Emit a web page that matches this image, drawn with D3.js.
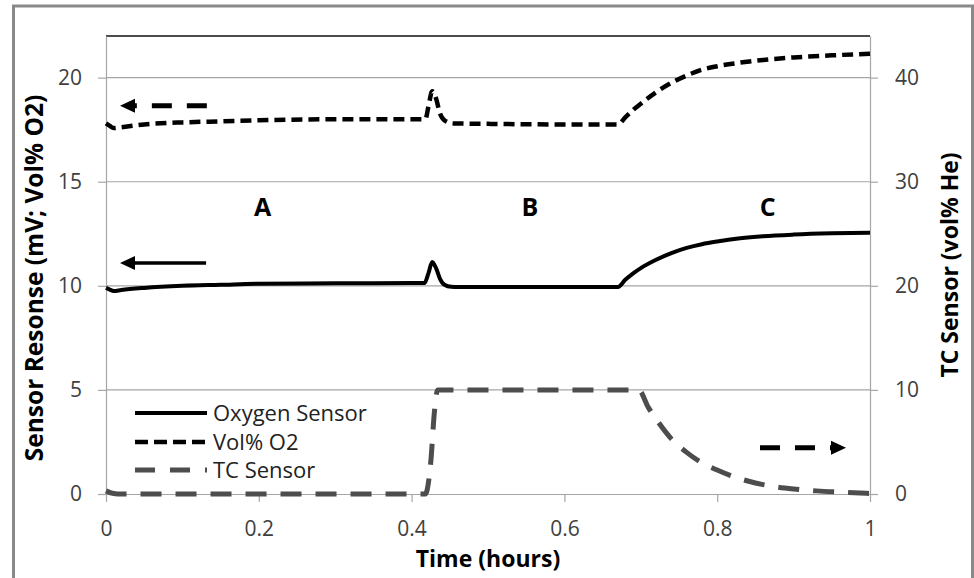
<!DOCTYPE html>
<html>
<head>
<meta charset="utf-8">
<script src="https://cdn.jsdelivr.net/npm/d3@7"></script>
<style>
    body { margin: 0; background: #fff; }
    svg { display: block; font-family: "Open Sans", sans-serif; }
</style>
</head>
<body>
<div id="chart"></div>
<script>
// values (time in hours)
const timeOxygen = [0, 0.005, 0.01, 0.02, 0.05, 0.1, 0.15, 0.2, 0.3, 0.4, 0.417, 0.422, 0.427, 0.432, 0.437, 0.443, 0.452, 0.46, 0.5, 0.6, 0.67, 0.68, 0.69, 0.7, 0.72, 0.74, 0.76, 0.78, 0.8, 0.83, 0.86, 0.9, 0.95, 1.0];
const oxygenSensor = [9.9, 9.82, 9.75, 9.8, 9.9, 10.0, 10.05, 10.1, 10.12, 10.13, 10.14, 10.6, 11.15, 10.85, 10.35, 10.05, 9.95, 9.94, 9.94, 9.94, 9.94, 10.3, 10.6, 10.85, 11.25, 11.57, 11.82, 12.0, 12.13, 12.28, 12.38, 12.46, 12.52, 12.55];

const timeVolO2 = [0, 0.005, 0.01, 0.02, 0.05, 0.1, 0.15, 0.2, 0.3, 0.4, 0.418, 0.422, 0.427, 0.432, 0.437, 0.443, 0.455, 0.5, 0.6, 0.67, 0.68, 0.69, 0.7, 0.72, 0.74, 0.76, 0.78, 0.8, 0.83, 0.86, 0.9, 0.95, 1.0];
const volO2 = [17.8, 17.68, 17.58, 17.62, 17.75, 17.85, 17.9, 17.95, 18.0, 18.0, 18.0, 18.6, 19.35, 19.0, 18.3, 17.95, 17.8, 17.78, 17.75, 17.75, 18.1, 18.45, 18.75, 19.3, 19.75, 20.1, 20.38, 20.55, 20.72, 20.85, 20.97, 21.07, 21.15];

const timeTc = [0, 0.01, 0.02, 0.2, 0.4, 0.418, 0.425, 0.43, 0.434, 0.44, 0.6, 0.697, 0.71, 0.72, 0.74, 0.76, 0.78, 0.8, 0.82, 0.84, 0.86, 0.88, 0.9, 0.93, 0.96, 1.0];
const tcSensor = [0.3, 0.05, 0, 0, 0, 0, 3, 8, 10, 10, 10, 10, 8.3, 7.2, 5.3, 4.0, 3.0, 2.3, 1.7, 1.25, 0.9, 0.65, 0.48, 0.3, 0.18, 0.05];

const xTicks = [0, 0.2, 0.4, 0.6, 0.8, 1];
const leftTicks = [0, 5, 10, 15, 20];
const rightTicks = [0, 10, 20, 30, 40];

const seriesNames = ['Oxygen Sensor', 'Vol% O2', 'TC Sensor'];

const regionLabels = ['A', 'B', 'C'];
const regionTime = [0.205, 0.555, 0.866];
const regionLevel = [13.8, 13.8, 13.8];

// arrows: tail time, tip time, level, which axis they point to
const arrowTail = [0.131, 0.132, 0.856];
const arrowTip = [0.0183, 0.0183, 0.9686];
const arrowLevel = [11.1, 18.65, 4.45];
const arrowAxis = ['left', 'left', 'right'];
const arrowDashed = [false, true, true];

class DualAxisChart {
    constructor(config) {
        this.config = config;
        this.magicConstants = {
            WIDTH: 974,
            HEIGHT: 578,
            PLOT: {left: 106, right: 870, top: 36, bottom: 494},
            GRID_COLOR: '#a6a6a6',
            TICK_COLOR: '#404040',
            TICK_SIZE: 8,
            HEAD: {length: 15, half: 7},
            STYLES: [
                {stroke: '#000', width: 4, dash: null},
                {stroke: '#000', width: 4.5, dash: '11,6'},
                {stroke: '#4d4d4d', width: 5, dash: '21,14'}
            ]
        };
    }

    _prepareSvg() {
        const {WIDTH, HEIGHT} = this.magicConstants;
        this.config.svg = d3.select(this.config.container)
            .append('svg')
            .attr('width', WIDTH)
            .attr('height', HEIGHT);
    }

    _makeScales() {
        const {PLOT} = this.magicConstants;
        this.config.x = d3.scaleLinear().domain([0, 1]).range([PLOT.left, PLOT.right]);
        this.config.yLeft = d3.scaleLinear().domain([0, 22]).range([PLOT.bottom, PLOT.top]);
        this.config.yRight = d3.scaleLinear().domain([0, 44]).range([PLOT.bottom, PLOT.top]);
    }

    _drawFrame() {
        const {svg} = this.config;
        svg.append('rect')
            .attr('x', 13.5)
            .attr('y', 6)
            .attr('width', 959)
            .attr('height', 620)
            .attr('fill', '#fff')
            .attr('stroke', '#898989')
            .attr('stroke-width', 3);
    }

    _drawGrid() {
        const {svg, x, yLeft} = this.config;
        const {GRID_COLOR, PLOT} = this.magicConstants;

        svg.append('g')
            .selectAll('line')
            .data(leftTicks.filter(d => d > 0))
            .join('line')
            .attr('x1', x(0))
            .attr('x2', x(1))
            .attr('y1', d => yLeft(d))
            .attr('y2', d => yLeft(d))
            .attr('stroke', GRID_COLOR)
            .attr('stroke-width', 1.2);

        // dark top edge of the plot area
        svg.append('line')
            .attr('x1', PLOT.left)
            .attr('x2', PLOT.right)
            .attr('y1', PLOT.top)
            .attr('y2', PLOT.top)
            .attr('stroke', '#111')
            .attr('stroke-width', 1.6);
    }

    _styleAxis(g) {
        const {GRID_COLOR, TICK_COLOR} = this.magicConstants;
        g.select('.domain').attr('stroke', GRID_COLOR).attr('stroke-width', 1.2);
        g.selectAll('.tick line').attr('stroke', GRID_COLOR).attr('stroke-width', 1.2);
        g.selectAll('.tick text')
            .attr('fill', TICK_COLOR)
            .style('font-size', '21px')
            .style('font-family', '"Open Sans", sans-serif');
    }

    _drawAxes() {
        const {svg, x, yLeft, yRight} = this.config;
        const {PLOT, TICK_SIZE} = this.magicConstants;

        svg.append('g')
            .attr('transform', `translate(0, ${PLOT.bottom})`)
            .call(d3.axisBottom(x).tickValues(xTicks).tickFormat(d3.format('')).tickSize(TICK_SIZE).tickSizeOuter(0).tickPadding(19))
            .call(g => this._styleAxis(g));

        svg.append('g')
            .attr('transform', `translate(${PLOT.left}, 0)`)
            .call(d3.axisLeft(yLeft).tickValues(leftTicks).tickSize(TICK_SIZE).tickSizeOuter(0).tickPadding(16))
            .call(g => this._styleAxis(g));

        svg.append('g')
            .attr('transform', `translate(${PLOT.right}, 0)`)
            .call(d3.axisRight(yRight).tickValues(rightTicks).tickSize(TICK_SIZE).tickSizeOuter(0).tickPadding(17))
            .call(g => this._styleAxis(g));

        svg.append('text')
            .attr('x', (PLOT.left + PLOT.right) / 2)
            .attr('y', 567)
            .attr('text-anchor', 'middle')
            .style('font-size', '23px')
            .style('font-weight', 'bold')
            .text('Time (hours)');

        svg.append('text')
            .attr('transform', `translate(43, 278) rotate(-90)`)
            .attr('text-anchor', 'middle')
            .style('font-size', '24.5px')
            .style('font-weight', 'bold')
            .text('Sensor Resonse (mV; Vol% O2)');

        svg.append('text')
            .attr('transform', `translate(958, ${(PLOT.top + PLOT.bottom) / 2}) rotate(-90)`)
            .attr('text-anchor', 'middle')
            .style('font-size', '23px')
            .style('font-weight', 'bold')
            .text('TC Sensor (vol% He)');
    }

    _drawSeries() {
        const {svg, x, yLeft, yRight} = this.config;
        const {STYLES} = this.magicConstants;
        const series = [
            {t: timeOxygen, v: oxygenSensor, y: yLeft},
            {t: timeVolO2, v: volO2, y: yLeft},
            {t: timeTc, v: tcSensor, y: yRight}
        ];

        // TC first so the black lines stay on top
        [2, 1, 0].forEach(i => {
            const s = series[i];
            const style = STYLES[i];
            const line = d3.line()
                .x(d => x(d[0]))
                .y(d => s.y(d[1]))
                .curve(d3.curveMonotoneX);

            svg.append('path')
                .datum(d3.zip(s.t, s.v))
                .attr('d', line)
                .attr('fill', 'none')
                .attr('stroke', style.stroke)
                .attr('stroke-width', style.width)
                .attr('stroke-dasharray', style.dash)
                .attr('stroke-linejoin', 'round');
        });
    }

    _drawArrows() {
        const {svg, x, yLeft, yRight} = this.config;
        const {HEAD} = this.magicConstants;

        arrowTail.forEach((tail, i) => {
            const y = arrowAxis[i] === 'left' ? yLeft(arrowLevel[i]) : yRight(arrowLevel[i]);
            const tipX = x(arrowTip[i]);
            const dir = Math.sign(x(tail) - tipX);
            const baseX = tipX + dir * HEAD.length;

            svg.append('line')
                .attr('x1', x(tail))
                .attr('x2', baseX)
                .attr('y1', y)
                .attr('y2', y)
                .attr('stroke', '#000')
                .attr('stroke-width', arrowDashed[i] ? 5 : 3.5)
                .attr('stroke-dasharray', arrowDashed[i] ? '20,15' : null);

            svg.append('path')
                .attr('d', `M${tipX},${y}L${baseX},${y - HEAD.half}L${baseX},${y + HEAD.half}Z`)
                .attr('fill', '#000');
        });
    }

    _drawRegionLabels() {
        const {svg, x, yLeft} = this.config;

        svg.append('g')
            .selectAll('text')
            .data(regionLabels)
            .join('text')
            .attr('x', (d, i) => x(regionTime[i]))
            .attr('y', (d, i) => yLeft(regionLevel[i]))
            .attr('dy', '0.36em')
            .attr('text-anchor', 'middle')
            .style('font-size', '25px')
            .style('font-weight', 'bold')
            .text(d => d);
    }

    _drawLegend() {
        const {svg} = this.config;
        const {STYLES} = this.magicConstants;
        const rows = [413, 442, 470];

        const item = svg.append('g')
            .selectAll('g')
            .data(seriesNames)
            .join('g')
            .attr('transform', (d, i) => `translate(135, ${rows[i]})`);

        item.append('line')
            .attr('x1', 0)
            .attr('x2', 72)
            .attr('stroke', (d, i) => STYLES[i].stroke)
            .attr('stroke-width', (d, i) => STYLES[i].width)
            .attr('stroke-dasharray', (d, i) => i === 1 ? '13,6' : (i === 2 ? '20,15' : null));

        item.append('text')
            .attr('x', 78)
            .attr('dy', '0.36em')
            .style('font-size', '22px')
            .attr('fill', '#222')
            .text(d => d);
    }

    init() {
        this._prepareSvg();
        this._makeScales();
        this._drawFrame();
        this._drawGrid();
        this._drawAxes();
        this._drawSeries();
        this._drawArrows();
        this._drawRegionLabels();
        this._drawLegend();
    }
}

const chart = new DualAxisChart({container: '#chart'});
chart.init();
</script>
</body>
</html>
